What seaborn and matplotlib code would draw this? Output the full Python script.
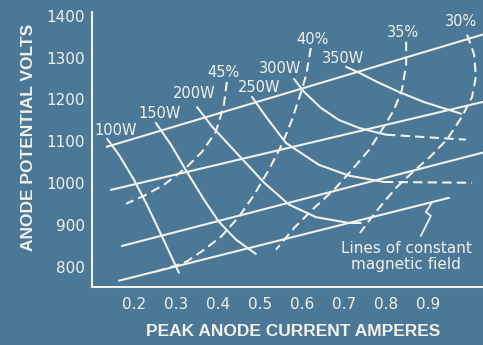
import matplotlib
matplotlib.use('Agg')
import matplotlib.pyplot as plt
import seaborn as sns

# lines of constant magnetic field (straight lines), amperes / volts
field_x = [[0.135, 1.03], [0.145, 1.03], [0.171, 1.03], [0.164, 0.95]]
field_y = [[1087, 1355], [984, 1194], [850, 1073], [767, 965]]

# constant output power curves
p100_x = [0.136, 0.164, 0.200, 0.231, 0.267, 0.307]
p100_y = [1106, 1068, 1008, 948, 872, 786]
p150_x = [0.252, 0.288, 0.326, 0.367, 0.402, 0.443, 0.490]
p150_y = [1144, 1092, 1027, 960, 908, 865, 831]
p200_x = [0.350, 0.386, 0.450, 0.510, 0.569, 0.633, 0.712, 0.740]
p200_y = [1182, 1135, 1066, 1001, 949, 919, 905, 905]
p250_x = [0.481, 0.514, 0.562, 0.640, 0.712, 0.795]
p250_y = [1206, 1159, 1096, 1044, 1018, 1003]
p250_tail_x = [0.795, 1.005]
p250_tail_y = [1003, 1001]
p300_x = [0.581, 0.605, 0.645, 0.688, 0.736, 0.783, 0.800]
p300_y = [1249, 1218, 1180, 1151, 1132, 1120, 1116]
p300_tail_x = [0.800, 0.990]
p300_tail_y = [1116, 1104]
p350_x = [0.705, 0.736, 0.783, 0.831, 0.890, 0.950, 0.979]
p350_y = [1278, 1264, 1240, 1218, 1194, 1175, 1166]

# constant efficiency curves (dashed)
eff45_x = [0.421, 0.414, 0.395, 0.362, 0.324, 0.271, 0.224, 0.181]
eff45_y = [1242, 1187, 1123, 1075, 1037, 996, 970, 951]
eff40_x = [0.621, 0.610, 0.598, 0.576, 0.552, 0.521, 0.486, 0.450, 0.407, 0.367, 0.324, 0.283, 0.243]
eff40_y = [1323, 1259, 1218, 1151, 1092, 1032, 972, 920, 872, 841, 812, 798, 786]
eff35_x = [0.848, 0.848, 0.838, 0.819, 0.795, 0.760, 0.719, 0.676, 0.629, 0.581, 0.538]
eff35_y = [1338, 1283, 1223, 1175, 1135, 1080, 1032, 984, 941, 893, 841]
eff30_x = [0.993, 1.010, 1.014, 1.005, 0.981, 0.945, 0.905, 0.862, 0.826, 0.795, 0.767, 0.738]
eff30_y = [1355, 1307, 1254, 1206, 1159, 1104, 1063, 1025, 991, 955, 920, 881]

power_labels = ['100W', '150W', '200W', '250W', '300W', '350W']
power_label_x = [0.157, 0.260, 0.343, 0.498, 0.548, 0.698]
power_label_y = [1125, 1166, 1214, 1228, 1273, 1297]
eff_labels = ['45%', '40%', '35%', '30%']
eff_label_x = [0.414, 0.626, 0.840, 0.979]
eff_label_y = [1264, 1343, 1359, 1386]

# pointer to the magnetic field lines
pointer_x = [0.910, 0.895, 0.907, 0.883]
pointer_y = [955, 931, 922, 874]

xticks = [0.2, 0.3, 0.4, 0.5, 0.6, 0.7, 0.8, 0.9]
yticks = [800, 900, 1000, 1100, 1200, 1300, 1400]

bg = '#4b7896'
fg = '#f2f1ea'

sns.set_style('white', {'axes.facecolor': bg, 'figure.facecolor': bg})
plt.rcParams['font.family'] = ['DejaVu Sans']

fig = plt.figure(figsize=(4.83, 3.45), dpi=100)
ax = fig.add_axes([0.1905, 0.1681, 0.8095, 0.7971])

lw = 1.5
dash = (0, (4.5, 2.5))

for fx, fy in zip(field_x, field_y):
    sns.lineplot(x=fx, y=fy, ax=ax, color=fg, lw=lw, sort=False, estimator=None)

for px, py in [(p100_x, p100_y), (p150_x, p150_y), (p200_x, p200_y),
               (p250_x, p250_y), (p300_x, p300_y), (p350_x, p350_y)]:
    sns.lineplot(x=px, y=py, ax=ax, color=fg, lw=lw, sort=False, estimator=None)

for px, py in [(p250_tail_x, p250_tail_y), (p300_tail_x, p300_tail_y),
               (eff45_x, eff45_y), (eff40_x, eff40_y),
               (eff35_x, eff35_y), (eff30_x, eff30_y)]:
    sns.lineplot(x=px, y=py, ax=ax, color=fg, lw=lw, linestyle=dash,
                 sort=False, estimator=None)

sns.lineplot(x=pointer_x, y=pointer_y, ax=ax, color=fg, lw=1.3, sort=False, estimator=None)

for t, x, y in zip(power_labels + eff_labels, power_label_x + eff_label_x,
                   power_label_y + eff_label_y):
    ax.text(x, y, t, color=fg, fontsize=10.5, ha='center', va='center')

ax.text(0.848, 824, 'Lines of constant\nmagnetic field', color=fg, fontsize=11,
        ha='center', va='center', linespacing=1.1)

ax.set_xlim(0.1, 1.031)
ax.set_ylim(752, 1409)
ax.set_xticks(xticks)
ax.set_yticks(yticks)
ax.set_xticklabels([str(v) for v in xticks])
ax.set_yticklabels([str(v) for v in yticks])

for s in ['top', 'right']:
    ax.spines[s].set_visible(False)
for s in ['left', 'bottom']:
    ax.spines[s].set_color(fg)
    ax.spines[s].set_linewidth(1.5)

ax.tick_params(axis='both', direction='inout', length=8, width=1.3, colors=fg,
               labelsize=11, labelcolor=fg)
ax.tick_params(axis='y', pad=1)
ax.tick_params(axis='x', pad=3)

ax.set_xlabel('PEAK ANODE CURRENT AMPERES', color=fg, fontsize=12.5,
              fontweight='bold', family='Liberation Sans')
ax.set_ylabel('ANODE POTENTIAL VOLTS', color=fg, fontsize=12.5,
              fontweight='bold', family='Liberation Sans')
ax.xaxis.set_label_coords(0.514, -0.135)
ax.yaxis.set_label_coords(-0.143, 0.545)

fig.savefig('out.png', dpi=100, facecolor=bg)
